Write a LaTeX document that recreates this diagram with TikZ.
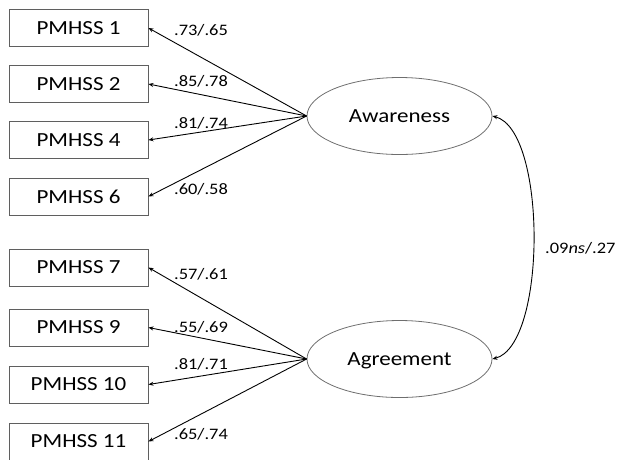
\documentclass[tikz,border=0pt]{standalone}
\usepackage{fontspec}
\setmainfont{Carlito}[FakeStretch=1.15]
\usetikzlibrary{arrows.meta,shapes.geometric}
\definecolor{boxgray}{RGB}{95,95,95}
\definecolor{ellgray}{RGB}{110,110,110}
\begin{document}
\begin{tikzpicture}[x=1pt,y=-1pt,
  item/.style={draw=boxgray, line width=0.9pt, minimum width=139pt, minimum height=37pt, inner sep=0pt, font=\fontsize{20}{24}\selectfont},
  latent/.style={ellipse, draw=ellgray, line width=0.8pt, minimum width=185pt, minimum height=77pt, inner sep=0pt, font=\fontsize{20}{24}\selectfont},
  load/.style={-{Stealth[length=5pt,width=4pt]}, line width=0.9pt},
  cov/.style={{Stealth[length=5pt,width=4pt]}-{Stealth[length=5pt,width=4pt]}, line width=0.9pt},
  coef/.style={anchor=base west, inner sep=0pt, font=\fontsize{16}{19}\selectfont}]
\useasboundingbox (0,0) rectangle (617,459);
\clip (0,0) rectangle (617,459);
\node[item] (p1) at (78.5,28) {PMHSS 1};
\node[item] (p2) at (78.5,84) {PMHSS 2};
\node[item] (p4) at (78.5,140) {PMHSS 4};
\node[item] (p6) at (78.5,196.5) {PMHSS 6};
\node[item] (p7) at (78.5,267.5) {PMHSS 7};
\node[item] (p9) at (78.5,327.5) {PMHSS 9};
\node[item] (p10) at (78.5,384.5) {PMHSS 10};
\node[item] (p11) at (78.5,441.5) {PMHSS 11};
\node[latent] (aw) at (399.5,116) {Awareness};
\node[latent] (ag) at (399.5,359) {\raisebox{0pt}[\height][0pt]{Agreement}};
\draw[load] (aw.west) -- (p1.east);
\draw[load] (aw.west) -- (p2.east);
\draw[load] (aw.west) -- (p4.east);
\draw[load] (aw.west) -- (p6.east);
\draw[load] (ag.west) -- (p7.east);
\draw[load] (ag.west) -- (p9.east);
\draw[load] (ag.west) -- (p10.east);
\draw[load] (ag.west) -- (p11.east);
\draw[cov] (aw.east) .. controls (547,130) and (547,345) .. (ag.east);
\node[coef] (l1) at (174,35) {.73/.65};
\node[coef] (l2) at (174,86) {.85/.78};
\node[coef] (l4) at (174,128) {.81/.74};
\node[coef] (l6) at (174,194) {.60/.58};
\node[coef] (l7) at (174,279) {.57/.61};
\node[coef] (l9) at (174,332) {.55/.69};
\node[coef] (l10) at (174,369) {.81/.71};
\node[coef] (l11) at (174,439) {.65/.74};
\node[coef] (lc) at (545,253) {.09\textit{ns}/.27};
\end{tikzpicture}
\end{document}
